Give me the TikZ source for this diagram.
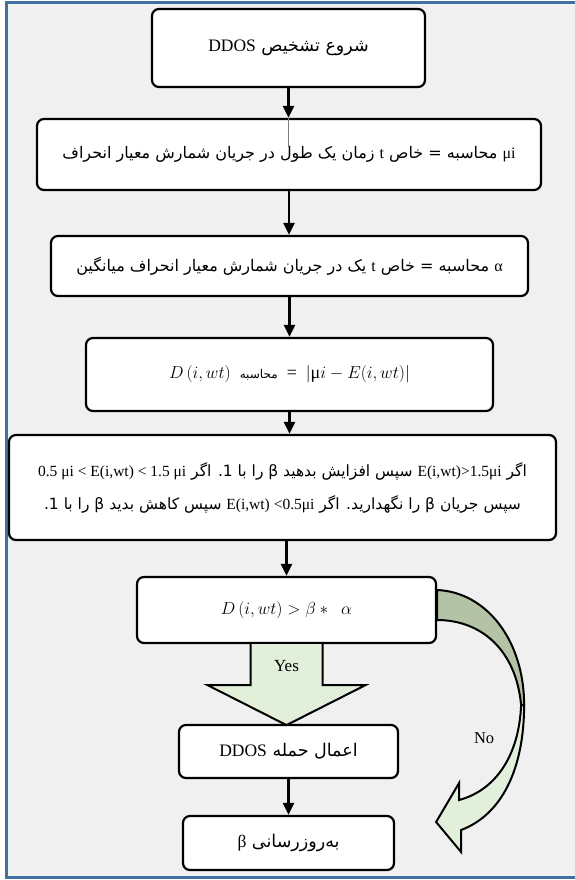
\documentclass[tikz,border=0pt]{standalone}
\usepackage{fontspec}
\setmainfont{Liberation Serif}
\newfontfamily\arabicfont[Script=Arabic]{DejaVu Sans}
\TeXXeTstate=1
\usetikzlibrary{arrows.meta}

\definecolor{framefill}{HTML}{F0F0F0}
\definecolor{frameblue}{HTML}{41719C}
\definecolor{yesgreen}{HTML}{E2EFDA}
\definecolor{nogray}{HTML}{B4C3A6}

\newcommand{\fa}[1]{{\arabicfont\beginR #1\endR}}
\newcommand{\lt}[1]{{\rmfamily\beginL #1\endL}}

\tikzset{
    flowbox/.style={draw, line width=2.2pt, rounded corners=7pt, fill=white,
        inner sep=0pt, font=\fontsize{16}{20}\selectfont},
    bigtext/.style={font=\fontsize{17.5}{21}\selectfont},
    mathtext/.style={font=\fontsize{18}{22}\selectfont},
    flowarrow/.style={line width=2.4pt, -{Triangle[length=12pt,width=11pt]}},
    bigarrow/.style={draw, line width=2pt, line join=miter},
}

\begin{document}
\begin{tikzpicture}[x=1pt, y=-1pt]

    \useasboundingbox (0, 0) rectangle (575, 880);
    \clip (0, 0) rectangle (575, 880);

    % Frame
    \fill[framefill] (6.5, 2.5) rectangle (600, 877);
    \draw[frameblue, line width=3pt] (6.5, 2.5) rectangle (600, 877);

    % Make the boxes
    \node[flowbox, bigtext, minimum width=273pt, minimum height=78pt] (start) at (288.5, 48)
        {\fa{شروع تشخیص \lt{DDOS}}};
    \node[flowbox, minimum width=504pt, minimum height=71pt] (mu) at (289, 154.5)
        {\fa{\lt{μi} محاسبه = خاص \lt{t} زمان یک طول در جریان شمارش معیار انحراف}};
    \node[flowbox, minimum width=477pt, minimum height=60pt] (alpha) at (289.5, 266)
        {\fa{\lt{α} محاسبه = خاص \lt{t} یک در جریان شمارش معیار انحراف میانگین}};
    \node[flowbox, mathtext, minimum width=407pt, minimum height=73pt] (dist) at (289.5, 374.5)
        {$D\,(i,wt)$\ \ {\fontsize{12}{14}\selectfont\fa{محاسبه}}\ \ =\ \ $|$μ$i - E(i,wt)|$};
    \node[flowbox, minimum width=547pt, minimum height=105pt, align=center,
          font=\fontsize{15.5}{33}\selectfont] (beta) at (282.5, 487.5)
        {\fa{اگر \lt{E(i,wt)>1.5μi} سپس افزایش بدهید β را با 1. اگر \lt{0.5 μi < E(i,wt) < 1.5 μi}}\\
         \fa{سپس جریان β را نگهدارید. اگر \lt{E(i,wt) <0.5μi} سپس کاهش بدید β را با 1.}};
    \node[flowbox, mathtext, minimum width=299pt, minimum height=66pt] (test) at (286.5, 610)
        {$D\,(i,wt) > \beta *\ \ \alpha$};
    \node[flowbox, bigtext, minimum width=219pt, minimum height=53pt] (attack) at (288.5, 751.5)
        {\fa{اعمال حمله \lt{DDOS}}};
    \node[flowbox, bigtext, minimum width=211pt, minimum height=54pt] (update) at (288.5, 843)
        {\fa{به‌روزرسانی \lt{β}}};

    % Straight arrows
    \draw[flowarrow] (start.south) -- (start.south |- mu.north);
    \draw[gray, thin] (start.south |- mu.north) -- ++(0, 29);
    \draw[flowarrow] (mu.south) -- (mu.south |- alpha.north);
    \draw[flowarrow] (alpha.south) -- (alpha.south |- dist.north);
    \draw[flowarrow] (dist.south) -- (dist.south |- beta.north);
    \draw[flowarrow] (beta.south -| test.north) -- (test.north);
    \draw[flowarrow] (attack.south) -- (attack.south |- update.north);

    % Yes arrow
    \begin{scope}[shift={(test.south)}]
        \fill[yesgreen] (-36, 0) -- (-36, 41) -- (-79, 41) -- (0, 81) -- (79, 41) -- (36, 41) -- (36, 0) -- cycle;
        \draw[bigarrow] (-36, 0) -- (-36, 41) -- (-79, 41) -- (0, 81) -- (79, 41) -- (36, 41) -- (36, 0);
        \node[font=\fontsize{17}{20}\selectfont] (yes) at (0, 22) {Yes};
    \end{scope}

    % No arrow
    \begin{scope}[shift={(test.east)}]
        \filldraw[bigarrow, fill=nogray] (0, -20) .. controls (49, -18) and (87, 30) .. (87, 95)
            -- (84, 95) .. controls (79, 40) and (44, 10) .. (0, 10) -- cycle;
        \filldraw[bigarrow, fill=yesgreen] (87, 95) .. controls (87, 160) and (64, 205) .. (24, 220)
            -- (24, 242) -- (-1, 212) -- (22, 173) -- (22, 190)
            .. controls (59, 180) and (82, 145) .. (84, 95) -- cycle;
        \node[font=\fontsize{16.5}{20}\selectfont] (no) at (47, 128) {No};
    \end{scope}

\end{tikzpicture}
\end{document}
